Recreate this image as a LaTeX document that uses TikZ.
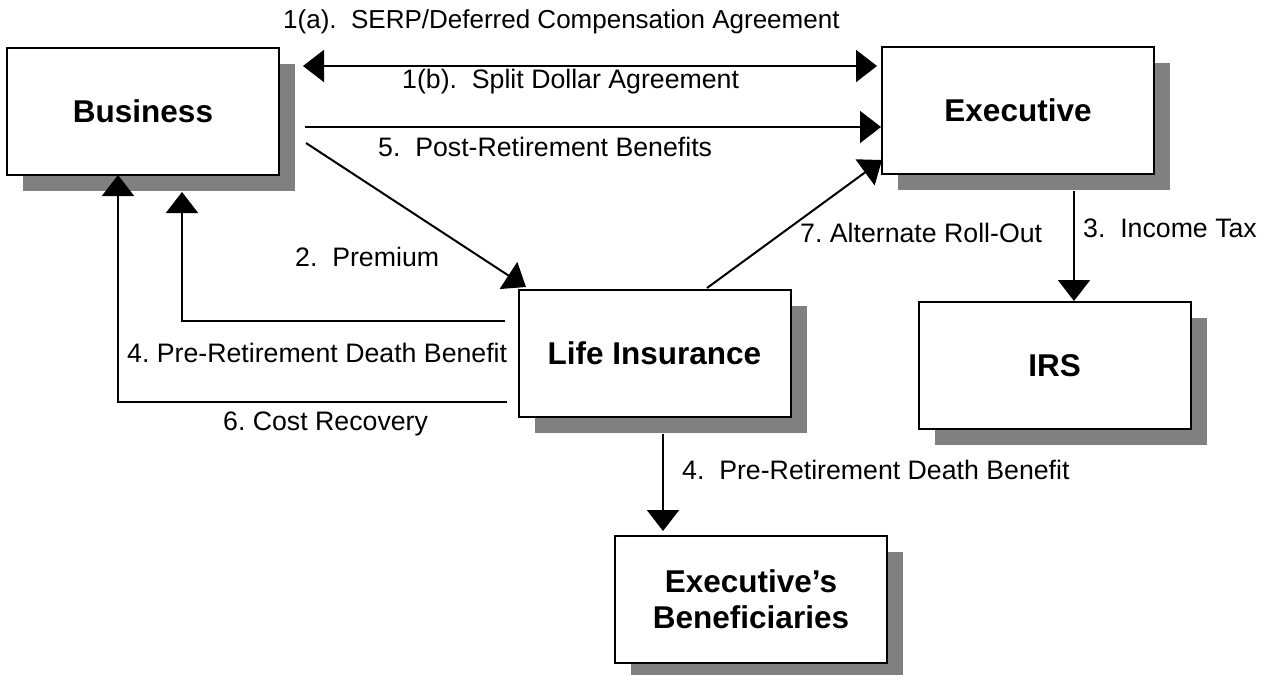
\documentclass[tikz,border=0pt]{standalone}
\usepackage{fontspec}
\setmainfont{Liberation Sans}
\usetikzlibrary{arrows.meta,shadows}
\definecolor{shadowgray}{RGB}{128,128,128}
\begin{document}
\begin{tikzpicture}[x=1pt,y=-1pt,
  box/.style={draw, line width=2pt, fill=white, minimum width=272pt, minimum height=127pt,
    inner sep=0pt, font=\fontsize{31.5}{36}\selectfont\bfseries, align=center,
    drop shadow={shadow xshift=16pt, shadow yshift=-16pt, fill=shadowgray, opacity=1}},
  conn/.style={line width=2pt},
  tipend/.style={-{Triangle[length=21pt,width=32pt]}},
  tipboth/.style={{Triangle[length=21pt,width=32pt]}-{Triangle[length=21pt,width=32pt]}},
  lbl/.style={anchor=base west, inner sep=0pt, font=\fontsize{26.7}{32}\selectfont}]
\useasboundingbox (0,0) rectangle (1262,675);

% boxes
\node[box] (biz) at (143,111) {Business};
\node[box] (exe) at (1018,110) {Executive};
\node[box] (li)  at (654.5,353) {Life Insurance};
\node[box] (irs) at (1054.5,365.5) {IRS};
\node[box] (ben) at (751,599) {Executive’s\\Beneficiaries};

% free ends
\coordinate (p1a) at (303,66);
\coordinate (p1b) at (877,66);
\coordinate (p5)  at (305,127);
\coordinate (p2s) at (306,143);
\coordinate (p2e) at (526,287);
\coordinate (p7s) at (707,288);
\coordinate (p7e) at (882,160);
\coordinate (p3s) at (1074,191);
\coordinate (p4s) at (663,434);
\coordinate (p4e) at (663,531);
\coordinate (p4a) at (505,321);
\coordinate (p4b) at (182,192);
\coordinate (p6a) at (507,402);
\coordinate (p6b) at (118,175);

% connectors
\draw[conn,tipboth] (p1a) -- (p1b);
\draw[conn,tipend] (p5) -- (exe.west |- p5);
\draw[conn,tipend] (p2s) -- (p2e);
\draw[conn,tipend] (p7s) -- (p7e);
\draw[conn,tipend] (p3s) -- (irs.north -| p3s);
\draw[conn,tipend] (p4s) -- (p4e);
\draw[conn,tipend] (p4a) -| (p4b);
\draw[conn,tipend] (p6a) -| (p6b);

% labels
\node[lbl,font=\fontsize{26}{32}\selectfont] (l1a) at (283,28) {1(a).\ \ SERP/Deferred Compensation Agreement};
\node[lbl] (l1b) at (402,88) {1(b).\ \ Split Dollar Agreement};
\node[lbl] (l5)  at (378,156) {5.\ \ Post-Retirement Benefits};
\node[lbl] (l2)  at (295,266) {2.\ \ Premium};
\node[lbl] (l7)  at (800,242) {7.\ Alternate Roll-Out};
\node[lbl] (l3)  at (1083,237) {3.\ \ Income Tax};
\node[lbl] (l4a) at (127,362) {4.\ Pre-Retirement Death Benefit};
\node[lbl] (l6)  at (223,430) {6.\ Cost Recovery};
\node[lbl] (l4b) at (682,479) {4.\ \ Pre-Retirement Death Benefit};
\end{tikzpicture}
\end{document}
